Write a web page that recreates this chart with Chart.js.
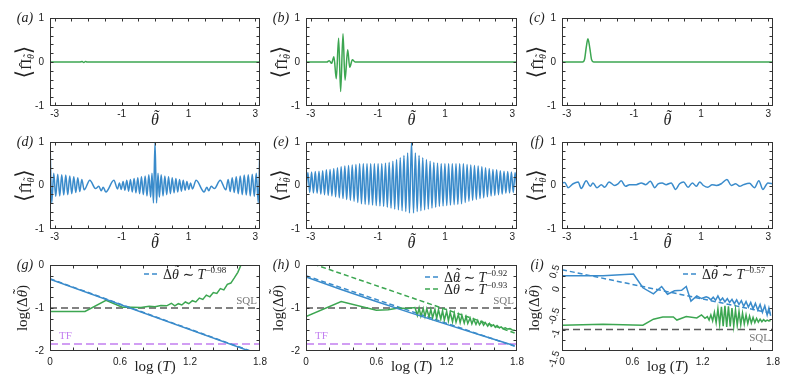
<!DOCTYPE html>
<html>
<head>
<meta charset="utf-8">
<script src="https://cdn.jsdelivr.net/npm/chart.js@4.4.1/dist/chart.umd.min.js"></script>
<style>
html, body { margin: 0; padding: 0; background: #fff; }
#wrap { position: relative; width: 793px; height: 390px; overflow: hidden; background: #fff; }
canvas { position: absolute; }
</style>
</head>
<body>
<div id="wrap"></div>
<script>
// ---- axes ----
const thetaRange = [-Math.PI, Math.PI];
const thetaLabels = [-3, -1, 1, 3];
const thetaMinor = [-3, -2.5, -2, -1.5, -1, -0.5, 0, 0.5, 1, 1.5, 2, 2.5, 3];
const parityRange = [-1, 1];
const parityLabels = [-1, 0, 1];
const parityMinor = [-0.8, -0.6, -0.4, -0.2, 0, 0.2, 0.4, 0.6, 0.8];
const logTRange = [0, 1.8];
const logTLabels = [0, 0.6, 1.2, 1.8];
const logTMinor = [0.2, 0.4, 0.6, 0.8, 1, 1.2, 1.4, 1.6];
const errRangeGH = [-2, 0];
const errLabelsGH = [-2, -1, 0];
const errMinorGH = [-1.75, -1.5, -1.25, -1, -0.75, -0.5, -0.25];
const errRangeI = [-1.5, 0.5];
const errLabelsI = [0.5, 0, -0.5, -1, -1.5];
const errMinorI = [0.25, 0, -0.25, -0.5, -0.75, -1, -1.25];
const sqlLevel = -1;
const tfLevel = -1.84;
const fitExponents = ['\u22120.98', '\u22120.92', '\u22120.93', '\u22120.57'];

// ---- (a)-(c) ----
const thA = [-3.1416, -2.25, -2.18, -2.13, -2.08, -2.03, 3.1416];
const valA = [0, 0, 0.012, -0.012, 0.01, 0, 0];
const thB = [-3.1416, -2.52, -2.45, -2.38, -2.31, -2.24, -2.17, -2.11, -2.04, -1.98, -1.90, -1.84, -1.76, -1.68, 3.1416];
const valB = [0, 0, 0.03, -0.03, 0.12, -0.38, 0.54, -0.67, 0.64, -0.41, 0.28, -0.12, 0.05, 0, 0];
const thC = [-3.1416, -2.53, -2.47, -2.42, -2.37, -2.31, -2.26, -2.20, 3.1416];
const valC = [0, 0, 0.06, 0.33, 0.53, 0.3, 0.05, 0, 0];

// ---- (d)-(f) ----
const thD = [-3.1416, -3.09, -3.03, -2.97, -2.91, -2.85, -2.79, -2.73, -2.67, -2.61, -2.55, -2.49, -2.43, -2.37, -2.31, -2.25, -2.19, -2.12, -1.95, -1.78, -1.68, -1.61, -1.55, -1.47, -1.23, -1.12, -1.065, -1.01, -0.955, -0.90, -0.845, -0.79, -0.735, -0.68, -0.625, -0.57, -0.515, -0.46, -0.405, -0.35, -0.295, -0.24, -0.185, -0.13, -0.09, -0.045, 0,
  0.045, 0.09, 0.13, 0.185, 0.24, 0.295, 0.35, 0.405, 0.46, 0.515, 0.57, 0.625, 0.68, 0.735, 0.79, 0.845, 0.90, 0.955, 1.01, 1.065, 1.12, 1.23, 1.47, 1.55, 1.61, 1.68, 1.78, 1.95, 2.12, 2.19, 2.25, 2.31, 2.37, 2.43, 2.49, 2.55, 2.61, 2.67, 2.73, 2.79, 2.85, 2.91, 2.97, 3.03, 3.09, 3.1416];
const valD = [1.0, -0.4, 0.28, -0.25, 0.26, -0.24, 0.25, -0.22, 0.24, -0.21, 0.22, -0.19, 0.2, -0.16, 0.18, -0.14, 0.14, -0.1, 0.12, -0.07, -0.02, -0.12, -0.04, -0.15, 0.12, -0.08, 0.06, -0.09, 0.09, -0.11, 0.12, -0.13, 0.14, -0.15, 0.16, -0.17, 0.18, -0.19, 0.2, -0.21, 0.22, -0.24, 0.25, -0.27, 0.28, -0.4, 1.0,
  -0.4, 0.28, -0.27, 0.25, -0.24, 0.22, -0.21, 0.2, -0.19, 0.18, -0.17, 0.16, -0.15, 0.14, -0.13, 0.12, -0.11, 0.09, -0.09, 0.06, -0.08, 0.12, -0.15, -0.04, -0.12, -0.02, -0.07, 0.12, -0.1, 0.14, -0.14, 0.18, -0.16, 0.2, -0.19, 0.22, -0.21, 0.24, -0.22, 0.25, -0.24, 0.26, -0.25, 0.28, -0.4, 1.0];
const thE = [-3.1416, -3.085, -3.03, -2.975, -2.92, -2.865, -2.81, -2.755, -2.70, -2.645, -2.59, -2.535, -2.48, -2.425, -2.37, -2.315, -2.26, -2.205, -2.15, -2.095, -2.04, -1.985, -1.93, -1.875, -1.82, -1.765, -1.71, -1.655, -1.60, -1.545, -1.49, -1.435, -1.38, -1.325, -1.27, -1.215, -1.16, -1.105, -1.05, -0.995, -0.94, -0.885, -0.83, -0.775, -0.72, -0.665, -0.61, -0.555, -0.50, -0.445, -0.39, -0.335, -0.28, -0.225, -0.17, -0.115, -0.06, 0,
  0.06, 0.115, 0.17, 0.225, 0.28, 0.335, 0.39, 0.445, 0.50, 0.555, 0.61, 0.665, 0.72, 0.775, 0.83, 0.885, 0.94, 0.995, 1.05, 1.105, 1.16, 1.215, 1.27, 1.325, 1.38, 1.435, 1.49, 1.545, 1.60, 1.655, 1.71, 1.765, 1.82, 1.875, 1.93, 1.985, 2.04, 2.095, 2.15, 2.205, 2.26, 2.315, 2.37, 2.425, 2.48, 2.535, 2.59, 2.645, 2.70, 2.755, 2.81, 2.865, 2.92, 2.975, 3.03, 3.085, 3.1416];
const valE = [-0.12, 0.3, -0.16, 0.31, -0.17, 0.32, -0.18, 0.33, -0.2, 0.34, -0.21, 0.36, -0.23, 0.37, -0.24, 0.39, -0.26, 0.41, -0.28, 0.43, -0.3, 0.45, -0.32, 0.46, -0.34, 0.47, -0.36, 0.48, -0.39, 0.5, -0.42, 0.5, -0.43, 0.5, -0.44, 0.5, -0.45, 0.5, -0.46, 0.5, -0.47, 0.5, -0.48, 0.51, -0.5, 0.53, -0.52, 0.56, -0.54, 0.6, -0.56, 0.64, -0.58, 0.69, -0.6, 0.75, -0.63, 1.0,
  -0.63, 0.75, -0.6, 0.69, -0.58, 0.64, -0.56, 0.6, -0.54, 0.56, -0.52, 0.53, -0.5, 0.51, -0.48, 0.5, -0.47, 0.5, -0.46, 0.5, -0.45, 0.5, -0.44, 0.5, -0.43, 0.5, -0.42, 0.5, -0.39, 0.48, -0.36, 0.47, -0.34, 0.46, -0.32, 0.45, -0.3, 0.43, -0.28, 0.41, -0.26, 0.39, -0.24, 0.37, -0.23, 0.36, -0.21, 0.34, -0.2, 0.33, -0.18, 0.32, -0.17, 0.31, -0.16, 0.3, -0.12];
const thF = [-3.1416, -3.06, -2.96, -2.81, -2.66, -2.57, -2.42, -2.30, -2.22, -2.10, -1.97, -1.87, -1.74, -1.57, -1.47, -1.38, -1.25, -1.13, -0.93, -0.78, -0.65, -0.51, -0.38, -0.28, -0.16, -0.04, 0.11, 0.24, 0.36, 0.48, 0.61, 0.74, 0.86, 0.96, 1.07, 1.20, 1.33, 1.45, 1.60, 1.77, 1.90, 2.03, 2.15, 2.27, 2.44, 2.59, 2.72, 2.84, 2.99, 3.1416];
const valF = [0.06, 0.07, -0.05, 0.04, 0.08, -0.07, 0.11, -0.02, 0.06, -0.05, 0.02, -0.04, 0.08, 0, 0.04, 0.11, -0.02, 0.02, 0.02, 0.06, 0.02, 0.1, -0.05, 0.04, 0.06, 0.02, 0.06, -0.09, 0.04, 0.08, -0.04, 0.06, -0.02, 0.08, 0, -0.04, 0.02, 0, 0.04, 0.14, 0, 0.04, -0.02, 0.02, 0.05, -0.05, 0.11, -0.09, 0.06, 0.04];

// ---- (g) ----
const gBlueT = [0, 1.78];
const gBlue = [-0.33, -2.07];
const gFitT = [0, 1.8];
const gFit = [-0.32, -2.08];
const gGreenT = [0, 0.30, 0.48, 0.62, 0.70, 0.78, 0.85, 0.90, 0.95, 1.00, 1.04, 1.07, 1.10, 1.13, 1.16, 1.19, 1.22, 1.25, 1.28, 1.31, 1.34, 1.37, 1.40, 1.43, 1.46, 1.49, 1.52, 1.55, 1.58, 1.61, 1.64];
const gGreen = [-1.08, -1.08, -0.82, -0.98, -0.98, -0.99, -0.96, -0.97, -0.94, -0.95, -0.89, -0.95, -0.9, -0.93, -0.86, -0.9, -0.83, -0.86, -0.77, -0.8, -0.7, -0.74, -0.64, -0.66, -0.55, -0.58, -0.45, -0.42, -0.3, -0.17, 0.02];

// ---- (h) ----
const hBlueT = [0, 0.3, 0.6, 0.9, 1.2, 1.5, 1.78];
const hBlue = [-0.28, -0.57, -0.85, -1.12, -1.38, -1.64, -1.88];
const hBlueFitT = [0, 1.78];
const hBlueFit = [-0.25, -1.89];
const hGreenFitT = [0, 1.78];
const hGreenFit = [0.08, -1.58];
const hGreenT = [0, 0.3, 0.6, 0.7, 0.79, 0.86, 0.93, 0.95, 0.965, 0.98, 1.0, 1.015, 1.03, 1.05, 1.065, 1.08, 1.10, 1.115, 1.13, 1.15, 1.165, 1.18, 1.20, 1.215, 1.23, 1.25, 1.265, 1.28, 1.30, 1.315, 1.33, 1.35, 1.365, 1.38, 1.40, 1.415, 1.43, 1.45, 1.465, 1.48, 1.50, 1.515, 1.53, 1.55, 1.565, 1.58, 1.60, 1.615, 1.63, 1.65, 1.665, 1.68, 1.70, 1.72, 1.74, 1.76, 1.78];
const hGreen = [-1.2, -0.85, -1.05, -1.04, -1.0, -1.01, -0.99, -1.17, -1.0, -1.19, -1.01, -1.2, -1.02, -1.21, -1.03, -1.23, -1.03, -1.24, -1.04, -1.26, -1.06, -1.28, -1.08, -1.3, -1.1, -1.32, -1.12, -1.33, -1.15, -1.34, -1.17, -1.35, -1.2, -1.36, -1.23, -1.37, -1.26, -1.38, -1.29, -1.39, -1.31, -1.4, -1.34, -1.42, -1.36, -1.43, -1.39, -1.45, -1.41, -1.46, -1.44, -1.48, -1.46, -1.49, -1.48, -1.51, -1.52];

// ---- (i) ----
const iBlueT = [0, 0.35, 0.61, 0.69, 0.78, 0.85, 0.9, 0.96, 1.02, 1.06, 1.1, 1.15, 1.19, 1.23, 1.25, 1.27, 1.29, 1.31, 1.33, 1.35, 1.37, 1.39, 1.41, 1.43, 1.45, 1.47, 1.49, 1.51, 1.53, 1.55, 1.57, 1.59, 1.61, 1.63, 1.65, 1.67, 1.69, 1.71, 1.73, 1.75, 1.765, 1.78];
const iBlue = [0.25, 0.25, 0.29, -0.03, -0.17, 0.0, -0.18, -0.1, -0.09, 0.0, -0.34, -0.22, -0.28, -0.24, -0.26, -0.31, -0.25, -0.32, -0.22, -0.33, -0.27, -0.36, -0.28, -0.37, -0.3, -0.4, -0.31, -0.42, -0.33, -0.46, -0.35, -0.48, -0.37, -0.52, -0.39, -0.55, -0.42, -0.6, -0.45, -0.66, -0.5, -0.68];
const iFitT = [0, 1.78];
const iFit = [0.39, -0.62];
const iGreenT = [0, 0.35, 0.69, 0.78, 0.86, 0.95, 0.98, 1.06, 1.15, 1.19, 1.22, 1.24, 1.255, 1.27, 1.285, 1.30, 1.315, 1.33, 1.345, 1.36, 1.375, 1.39, 1.405, 1.42, 1.435, 1.45, 1.465, 1.48, 1.495, 1.51, 1.525, 1.54, 1.555, 1.57, 1.585, 1.60, 1.615, 1.63, 1.645, 1.66, 1.675, 1.69, 1.705, 1.72, 1.735, 1.75, 1.765, 1.78];
const iGreen = [-0.9, -0.88, -0.9, -0.76, -0.71, -0.71, -0.78, -0.7, -0.73, -0.66, -0.74, -0.7, -0.78, -0.66, -0.8, -0.6, -0.84, -0.52, -0.88, -0.47, -0.92, -0.45, -0.94, -0.46, -0.93, -0.5, -0.92, -0.54, -0.9, -0.58, -0.89, -0.62, -0.87, -0.66, -0.86, -0.69, -0.85, -0.72, -0.84, -0.74, -0.83, -0.76, -0.82, -0.77, -0.81, -0.78, -0.8, -0.79];

// ---- style ----
const BLUE = '#3a8bcb';
const GREEN = '#3ca651';
const GRAY = '#5a5a5a';
const PURPLE = '#c27ff0';
const SERIF = "'Liberation Serif', 'DejaVu Serif', serif";
const SANS = "'Liberation Sans', 'DejaVu Sans', sans-serif";
const TILDE = '\u02dc', HAT = '\u02c6';
Chart.defaults.font.family = SANS;

function series(xs, ys, color, extra) {
  return Object.assign({
    data: xs.map((x, i) => ({ x: x, y: ys[i] })),
    borderColor: color, borderWidth: 1.5, pointRadius: 0, fill: false, tension: 0
  }, extra || {});
}
const smooth = { cubicInterpolationMode: 'monotone' };

// text pieces: [text, font, dy, accent, accentDx, accentDy]
function rich(ctx, segs, x, y, align) {
  let w = 0;
  segs.forEach(s => { ctx.font = s[1]; w += ctx.measureText(s[0]).width; });
  let cx = align === 'center' ? x - w / 2 : (align === 'right' ? x - w : x);
  ctx.textBaseline = 'alphabetic';
  segs.forEach(s => {
    ctx.font = s[1];
    const sw = ctx.measureText(s[0]).width;
    const by = y + (s[2] || 0);
    ctx.textAlign = 'left';
    ctx.fillText(s[0], cx, by);
    if (s[3]) {
      ctx.textAlign = 'center';
      ctx.fillText(s[3], cx + sw / 2 + (s[4] || 0), by + (s[5] || 0));
    }
    cx += sw;
  });
  ctx.textAlign = 'left';
}

function legendRow(ctx, x0, y0, color, exp) {
  ctx.save();
  ctx.strokeStyle = color; ctx.lineWidth = 1.5; ctx.setLineDash([5, 3]);
  ctx.beginPath(); ctx.moveTo(x0, y0); ctx.lineTo(x0 + 14, y0); ctx.stroke();
  ctx.restore();
  ctx.fillStyle = '#222';
  rich(ctx, [['\u0394', '14px ' + SERIF], ['\u03b8', 'italic 14px ' + SERIF, 0, TILDE, 1, -4],
             [' \u223c ', '14px ' + SERIF], ['T', 'italic 14px ' + SERIF], [exp, '9px ' + SERIF, -6]],
       x0 + 19, y0 + 5, 'left');
}

function parityText(label) {
  return function (ctx, a) {
    ctx.fillStyle = '#222';
    rich(ctx, [[label, 'italic 14px ' + SERIF]], a.left - 25, a.top + 4, 'center');
    rich(ctx, [['\u03b8', 'italic 16px ' + SERIF, 0, TILDE, 1, -4]], (a.left + a.right) / 2, a.bottom + 19, 'center');
    ctx.save();
    ctx.translate(a.left - 25, (a.top + a.bottom) / 2);
    ctx.rotate(-Math.PI / 2);
    rich(ctx, [['\u27e8', '22px DejaVu Sans'], ['\u03a0', '15px ' + SERIF, 0, HAT, 0, -2],
               ['\u03b8', 'italic 10px ' + SERIF, 3, TILDE, 0.5, -3], ['\u27e9', '22px DejaVu Sans']], 0, 6, 'center');
    ctx.restore();
  };
}

function errText(label, extra) {
  return function (ctx, a, x, y) {
    ctx.fillStyle = '#222';
    rich(ctx, [[label, 'italic 14px ' + SERIF]], a.left - 25, a.top + 4, 'center');
    rich(ctx, [['log (', '15px ' + SERIF], ['T', 'italic 15px ' + SERIF], [')', '15px ' + SERIF]],
         (a.left + a.right) / 2, a.bottom + 20, 'center');
    ctx.save();
    ctx.translate(a.left - 28, (a.top + a.bottom) / 2);
    ctx.rotate(-Math.PI / 2);
    rich(ctx, [['log(\u0394', '15px ' + SERIF], ['\u03b8', 'italic 15px ' + SERIF, 0, TILDE, 1, -4], [')', '15px ' + SERIF]], 0, 5, 'center');
    ctx.restore();
    extra(ctx, a, x, y);
  };
}

const extras = {};
const frame = {
  id: 'frame',
  afterDatasetsDraw(chart) {
    const o = extras[chart.canvas.id];
    const ctx = chart.ctx, a = chart.chartArea, x = chart.scales.x, y = chart.scales.y;
    ctx.save();
    ctx.strokeStyle = '#333'; ctx.lineWidth = 1;
    const L = Math.round(a.left) + 0.5, R = Math.round(a.right) - 0.5;
    const T = Math.round(a.top) + 0.5, B = Math.round(a.bottom) - 0.5;
    ctx.strokeRect(L, T, R - L, B - T);
    ctx.beginPath();
    o.xm.forEach(v => {
      const p = Math.round(x.getPixelForValue(v)) + 0.5;
      ctx.moveTo(p, B); ctx.lineTo(p, B - 3); ctx.moveTo(p, T); ctx.lineTo(p, T + 3);
    });
    o.ym.forEach(v => {
      const p = Math.round(y.getPixelForValue(v)) + 0.5;
      ctx.moveTo(L, p); ctx.lineTo(L + 3, p); ctx.moveTo(R, p); ctx.lineTo(R - 3, p);
    });
    ctx.stroke();
    o.text(ctx, a, x, y);
    ctx.restore();
  }
};

function panel(id, box, datasets, o) {
  const P = { l: 48, t: 12, r: 14, b: 28 };
  const W = box[2] + P.l + P.r, H = box[3] + P.t + P.b;
  const cv = document.createElement('canvas');
  cv.id = id; cv.width = W; cv.height = H;
  cv.style.left = (box[0] - P.l) + 'px';
  cv.style.top = (box[1] - P.t) + 'px';
  cv.style.width = W + 'px';
  cv.style.height = H + 'px';
  document.getElementById('wrap').appendChild(cv);
  extras[id] = o;
  const tickFont = { family: SANS, size: 10 };
  return new Chart(cv, {
    type: 'line',
    data: { datasets: datasets },
    options: {
      responsive: false, animation: false, devicePixelRatio: 1,
      layout: { padding: { left: 0, top: P.t, right: P.r, bottom: 0 } },
      plugins: { legend: { display: false }, tooltip: { enabled: false } },
      scales: {
        x: {
          type: 'linear', min: o.x[0], max: o.x[1],
          grid: { display: false, drawTicks: false }, border: { display: false },
          afterBuildTicks: s => { s.ticks = o.xl.map(v => ({ value: v })); },
          afterFit: s => { s.height = P.b; },
          ticks: { autoSkip: false, maxRotation: 0, minRotation: 0, padding: o.xpad, font: tickFont, color: '#222', callback: v => String(v) }
        },
        y: {
          type: 'linear', min: o.y[0], max: o.y[1],
          grid: { display: false, drawTicks: false }, border: { display: false },
          afterBuildTicks: s => { s.ticks = o.yl.map(v => ({ value: v })); },
          afterFit: s => { s.width = P.l; },
          ticks: { display: !o.rotY, padding: 6, font: tickFont, color: '#222', callback: v => String(v) }
        }
      }
    },
    plugins: [frame]
  });
}

const cols = [[50, 210], [306, 211], [562, 211]];
const rows = [[18, 88], [142, 87], [265, 86]];
const box = (c, r) => [cols[c][0], rows[r][0], cols[c][1], rows[r][1]];

function parityPanel(id, c, r, label, xs, ys, color) {
  panel(id, box(c, r), [series(xs, ys, color, smooth)], {
    x: thetaRange, y: parityRange, xl: thetaLabels, yl: parityLabels,
    xm: thetaMinor, ym: parityMinor, xpad: 2, text: parityText(label)
  });
}

parityPanel('pa', 0, 0, '(a)', thA, valA, GREEN);
parityPanel('pb', 1, 0, '(b)', thB, valB, GREEN);
parityPanel('pc', 2, 0, '(c)', thC, valC, GREEN);
parityPanel('pd', 0, 1, '(d)', thD, valD, BLUE);
parityPanel('pe', 1, 1, '(e)', thE, valE, BLUE);
parityPanel('pf', 2, 1, '(f)', thF, valF, BLUE);

const sqlDash = { borderDash: [7, 4], borderColor: GRAY, borderWidth: 1.5 };
const tfDash = { borderDash: [8, 4], borderColor: PURPLE, borderWidth: 1.5 };
const fitDash = { borderDash: [5, 3] };

function levelLabels(ctx, a, y, below, showTF) {
  ctx.fillStyle = '#777';
  const ps = y.getPixelForValue(sqlLevel);
  rich(ctx, [['SQL', '11px ' + SERIF]], a.right - 3, below ? ps + 11 : ps - 4, 'right');
  if (showTF) {
    ctx.fillStyle = PURPLE;
    rich(ctx, [['TF', '11px ' + SERIF]], a.left + 9, y.getPixelForValue(tfLevel) - 5, 'left');
  }
}

panel('pg', box(0, 2), [
  series(gBlueT, gBlue, BLUE),
  series(gGreenT, gGreen, GREEN),
  series(gFitT, gFit, BLUE, fitDash),
  series(logTRange, [sqlLevel, sqlLevel], GRAY, sqlDash),
  series(logTRange, [tfLevel, tfLevel], PURPLE, tfDash)
], {
  x: logTRange, y: errRangeGH, xl: logTLabels, yl: errLabelsGH, xm: logTMinor, ym: errMinorGH, xpad: 5,
  text: errText('(g)', (ctx, a, x, y) => {
    legendRow(ctx, a.left + 94, a.top + 9, BLUE, fitExponents[0]);
    levelLabels(ctx, a, y, false, true);
  })
});

panel('ph', box(1, 2), [
  series(hBlueT, hBlue, BLUE),
  series(hGreenT, hGreen, GREEN),
  series(hBlueFitT, hBlueFit, BLUE, fitDash),
  series(hGreenFitT, hGreenFit, GREEN, fitDash),
  series(logTRange, [sqlLevel, sqlLevel], GRAY, sqlDash),
  series(logTRange, [tfLevel, tfLevel], PURPLE, tfDash)
], {
  x: logTRange, y: errRangeGH, xl: logTLabels, yl: errLabelsGH, xm: logTMinor, ym: errMinorGH, xpad: 5,
  text: errText('(h)', (ctx, a, x, y) => {
    legendRow(ctx, a.left + 119, a.top + 12, BLUE, fitExponents[1]);
    legendRow(ctx, a.left + 119, a.top + 24, GREEN, fitExponents[2]);
    levelLabels(ctx, a, y, false, true);
  })
});

panel('pi', box(2, 2), [
  series(iBlueT, iBlue, BLUE),
  series(iGreenT, iGreen, GREEN),
  series(iFitT, iFit, BLUE, fitDash),
  series(logTRange, [sqlLevel, sqlLevel], GRAY, sqlDash)
], {
  x: logTRange, y: errRangeI, xl: logTLabels, yl: errLabelsI, xm: logTMinor, ym: errMinorI, xpad: 5, rotY: true,
  text: errText('(i)', (ctx, a, x, y) => {
    legendRow(ctx, a.left + 121, a.top + 9, BLUE, fitExponents[3]);
    levelLabels(ctx, a, y, true, false);
    ctx.fillStyle = '#222';
    errLabelsI.forEach(v => {
      ctx.save();
      ctx.translate(a.left - 5, y.getPixelForValue(v));
      ctx.rotate(-Math.PI * 0.4);
      ctx.font = '10px ' + SANS;
      ctx.textAlign = 'right';
      ctx.textBaseline = 'middle';
      ctx.fillText(String(v), 0, 0);
      ctx.restore();
    });
  })
});
</script>
</body>
</html>
